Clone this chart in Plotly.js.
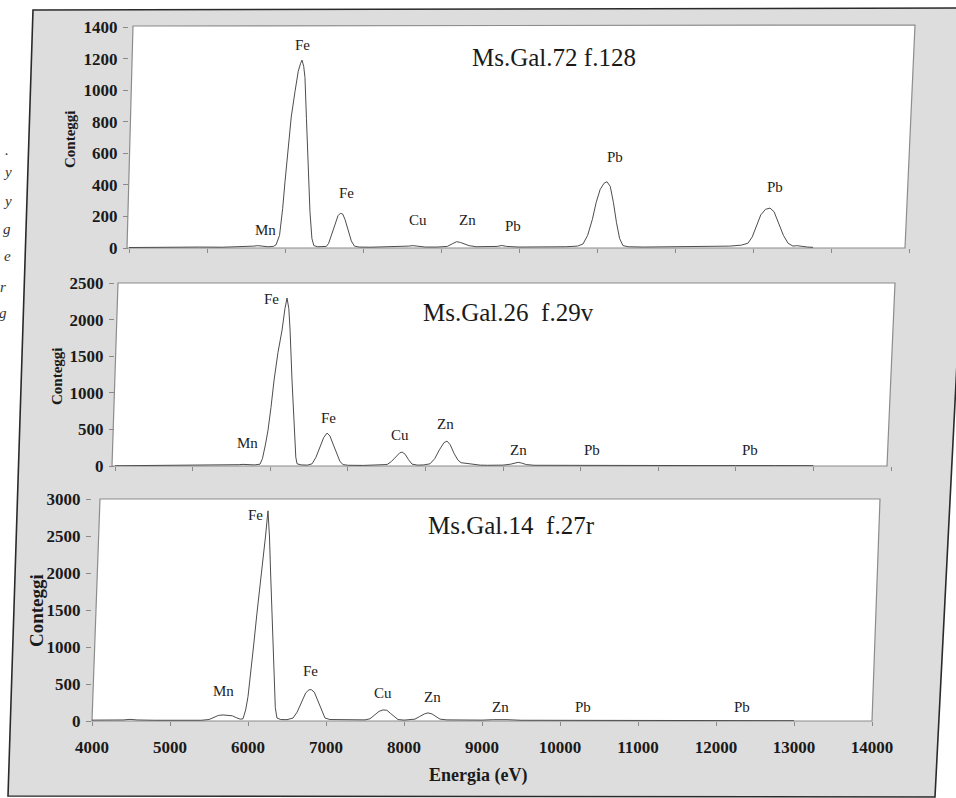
<!DOCTYPE html>
<html>
<head>
<meta charset="utf-8">
<script src="https://cdn.plot.ly/plotly-3.0.1.min.js"></script>
<style>html,body{margin:0;padding:0;background:#fff;}#chart{width:956px;height:798px;}</style>
</head>
<body>
<div id="chart"></div>
<script>
// ---------- DATA ----------
// Panel 1: Ms.Gal.72 f.128
const energy1 = [4000,4300,4600,4900,5200,5500,5600,5650,5700,5780,5850,
  5885,5930,5970,6000,6040,6080,6128,6170,6200,6218,6240,6256,6275,6295,6320,6345,6370,6420,6480,6530,
  6560,6600,6640,6680,6710,6740,6770,6810,6850,6890,6950,
  7100,7300,7500,7580,7640,7700,7800,7950,8080,8150,8200,8250,8300,8360,8450,8600,8720,8780,8840,9000,9300,9600,9750,
  9820,9880,9940,9990,10040,10090,10128,10170,10210,10250,10290,10333,10400,10600,10900,11200,11500,11700,11850,
  11935,11990,12040,12100,12160,12218,12270,12330,12390,12450,12513,12560,12620,12700,12770];
const counts1 = [3,5,4,6,5,8,12,15,12,8,10,
  20,80,250,420,640,830,990,1120,1170,1190,1150,1080,820,520,230,60,15,8,8,10,
  30,90,160,205,220,215,180,110,45,12,6,
  5,6,8,12,15,10,6,6,10,28,40,35,25,15,8,7,10,16,10,6,6,8,12,
  25,80,180,290,370,410,420,390,290,160,60,15,8,6,7,8,10,12,18,
  30,70,140,210,245,253,230,160,80,30,12,15,10,6,4];

// Panel 2: Ms.Gal.26 f.29v
const energy2 = [4000,4400,4800,5200,5500,5600,5650,5700,5800,5869,
  5900,5940,5972,6010,6050,6100,6153,6190,6217,6240,6256,6281,6307,6330,6346,6400,6480,
  6540,6590,6640,6690,6733,6770,6810,6860,6900,6939,7000,7200,7400,
  7506,7560,7620,7670,7700,7740,7780,7828,7900,7980,
  8060,8120,8180,8240,8279,8320,8370,8420,8460,8550,8640,8705,8800,9000,9100,9160,9195,9240,9300,9400,9700,
  10000,10100,10187,10280,10600,11000,11500,12000,12200,12500,13000];
const counts2 = [3,5,5,8,12,18,22,18,15,25,
  100,300,490,800,1175,1550,1858,2150,2295,2150,1858,1175,490,120,30,15,12,
  30,120,260,390,450,410,300,150,60,20,10,8,10,
  20,60,130,180,190,160,90,25,12,15,
  30,100,220,320,340,290,170,80,45,30,20,12,10,12,25,45,50,40,20,10,8,
  8,10,14,10,8,6,6,6,8,6,5];

// Panel 3: Ms.Gal.14 f.27r
const energy3 = [4000,4200,4400,4487,4580,4800,5100,5400,5500,5560,5620,5680,5740,5800,5850,5900,5936,
  5970,6000,6026,6070,6115,6150,6192,6225,6256,6275,6290,6307,6333,6350,6371,6420,6500,
  6577,6630,6690,6740,6780,6810,6850,6900,6950,6987,7050,7200,7400,7500,
  7564,7620,7680,7731,7780,7830,7880,7923,8000,8080,
  8141,8200,8260,8308,8360,8410,8462,8550,8700,9000,9150,9231,9320,9500,
  10000,10500,11000,11500,12000,12500,13000];
const counts3 = [12,10,14,22,14,10,8,10,20,50,75,82,78,70,45,25,30,
  150,330,550,1000,1460,1780,2135,2500,2840,2500,2000,1460,550,180,40,20,18,
  40,120,260,380,420,425,390,260,110,40,20,15,12,15,
  30,80,130,150,145,100,50,20,12,15,
  25,60,95,110,95,60,25,15,12,12,18,22,18,10,
  8,8,6,6,5,5,4];

// Axis ranges / ticks
const xRange = [4000, 14000];
const xTicks = [4000,5000,6000,7000,8000,9000,10000,11000,12000,13000,14000];
const xTickText = ['4000','5000','6000','7000','8000','9000','10000','11000','12000','13000','14000'];
const yTicks1 = [0,200,400,600,800,1000,1200,1400];
const yTicks2 = [0,500,1000,1500,2000,2500];
const yTicks3 = [0,500,1000,1500,2000,2500,3000];

// Panel titles
const panelTitles = ['Ms.Gal.72 f.128', 'Ms.Gal.26  f.29v', 'Ms.Gal.14  f.27r'];

// Peak labels (element, energy, counts)
const labels1 = ['Fe','Mn','Fe','Cu','Zn','Pb','Pb','Pb'];
const labX1 = [6230,5744,6790,7710,8340,8920,10230,12280];
const labY1 = [1286,114,348,177,177,140,576,386];
const labels2 = ['Fe','Mn','Fe','Cu','Zn','Zn','Pb','Pb'];
const labX2 = [6011,5701,6746,7674,8254,9195,10149,12185];
const labY2 = [2281,314,656,423,574,219,219,219];
const labels3 = ['Fe','Mn','Fe','Cu','Zn','Zn','Pb','Pb'];
const labX3 = [6090,5680,6795,7731,8359,9231,10295,12333];
const labY3 = [2783,405,675,378,324,189,189,189];

// Fragments of the neighbouring page text visible at the left margin of the scan
const marginText = ['.', 'y', 'y', 'g', 'e', 'r', 'g'];

// ---------- LAYOUT HELPERS ----------
const W = 956, H = 798;
const px = v => v / W;
const py = v => 1 - v / H;
const FONT = 'Liberation Serif, Times New Roman, serif';
function quad(pts) {
  return 'M ' + pts.map(p => px(p[0]).toFixed(5) + ' ' + py(p[1]).toFixed(5)).join(' L ') + ' Z';
}

const lineStyle = {color: '#4d4d4d', width: 1};
const traces = [
  {x: energy1, y: counts1, xaxis: 'x', yaxis: 'y', mode: 'lines', line: lineStyle, hoverinfo: 'skip'},
  {x: energy2, y: counts2, xaxis: 'x2', yaxis: 'y2', mode: 'lines', line: lineStyle, hoverinfo: 'skip'},
  {x: energy3, y: counts3, xaxis: 'x3', yaxis: 'y3', mode: 'lines', line: lineStyle, hoverinfo: 'skip'}
];

const tickFont = {family: FONT, size: 17, color: '#1a1a1a', weight: 'bold'};
function xAxis(domain, anchor, showLabels) {
  return {domain: domain, anchor: anchor, range: xRange, tickmode: 'array', tickvals: xTicks, ticktext: xTickText,
    showticklabels: showLabels, ticks: 'outside', ticklen: 4, tickcolor: '#8a8a8a', tickwidth: 1,
    showgrid: false, zeroline: false, showline: false, tickfont: tickFont, ticklabelstandoff: 7, fixedrange: true};
}
function yAxis(domain, anchor, range, vals) {
  return {domain: domain, anchor: anchor, range: range, tickmode: 'array', tickvals: vals, ticktext: vals.map(String),
    ticks: 'outside', ticklen: 5, tickcolor: '#8a8a8a', tickwidth: 1,
    showgrid: false, zeroline: false, showline: false, tickfont: tickFont, ticklabelstandoff: 2, fixedrange: true};
}

const shapes = [
  // scanned gray board with dark frame
  {type: 'path', xref: 'paper', yref: 'paper', layer: 'below',
   path: quad([[33,10],[975,8],[935,797],[8,796]]), fillcolor: '#dddddd', line: {color: '#2a2a2a', width: 1.6}},
  // white plot areas
  {type: 'path', xref: 'paper', yref: 'paper', layer: 'below',
   path: quad([[133,26],[915,25],[905,248],[127,248]]), fillcolor: '#ffffff', line: {color: '#8c8c8c', width: 1.2}},
  {type: 'path', xref: 'paper', yref: 'paper', layer: 'below',
   path: quad([[118,283],[895,283],[887,466],[112,466]]), fillcolor: '#ffffff', line: {color: '#8c8c8c', width: 1.2}},
  {type: 'path', xref: 'paper', yref: 'paper', layer: 'below',
   path: quad([[100,499],[880,499],[872,721],[92,721]]), fillcolor: '#ffffff', line: {color: '#8c8c8c', width: 1.2}}
];

const annotations = [];
function addLabels(txt, xs, ys, xr, yr) {
  txt.forEach((t, i) => annotations.push({text: t, x: xs[i], y: ys[i], xref: xr, yref: yr,
    xanchor: 'center', yanchor: 'middle',
    showarrow: false, font: {family: FONT, size: 15, color: '#222'}}));
}
addLabels(labels1, labX1, labY1, 'x', 'y');
addLabels(labels2, labX2, labY2, 'x2', 'y2');
addLabels(labels3, labX3, labY3, 'x3', 'y3');

const titlePos = [[554, 58], [508, 312], [512, 525]];
panelTitles.forEach((t, i) => annotations.push({text: t, x: px(titlePos[i][0]), y: py(titlePos[i][1]),
  xref: 'paper', yref: 'paper', xanchor: 'center', yanchor: 'middle',
  showarrow: false, font: {family: FONT, size: 25, color: '#1a1a1a'}}));

const ytPos = [[70, 139, 15], [57, 376, 15], [36, 611, 19]];
ytPos.forEach(p => annotations.push({text: 'Conteggi', x: px(p[0]), y: py(p[1]), xref: 'paper', yref: 'paper',
  xanchor: 'center', yanchor: 'middle',
  showarrow: false, textangle: -90, font: {family: FONT, size: p[2], color: '#1a1a1a', weight: 'bold'}}));

annotations.push({text: 'Energia (eV)', x: px(478), y: py(775), xref: 'paper', yref: 'paper',
  xanchor: 'center', yanchor: 'middle', showarrow: false,
  font: {family: FONT, size: 18, color: '#1a1a1a', weight: 'bold'}});

const marginPos = [[7,150],[7,172],[7,201],[7,229],[7,256],[3,287],[3,313]];
marginText.forEach((t, i) => annotations.push({text: t, x: px(marginPos[i][0]), y: py(marginPos[i][1]),
  xref: 'paper', yref: 'paper', xanchor: 'center', yanchor: 'middle', showarrow: false,
  font: {family: FONT, size: 15, color: '#333', style: 'italic'}}));

const layout = {
  width: W, height: H, margin: {l: 0, r: 0, t: 0, b: 0},
  paper_bgcolor: '#ffffff', plot_bgcolor: 'rgba(0,0,0,0)', showlegend: false,
  xaxis: xAxis([px(129), px(909)], 'y', false),
  yaxis: yAxis([py(248), py(27)], 'x', [0, 1400], yTicks1),
  xaxis2: xAxis([px(115), px(891)], 'y2', false),
  yaxis2: yAxis([py(466), py(283)], 'x2', [0, 2500], yTicks2),
  xaxis3: xAxis([px(92), px(872)], 'y3', true),
  yaxis3: yAxis([py(721), py(499)], 'x3', [0, 3000], yTicks3),
  shapes: shapes, annotations: annotations
};

Plotly.newPlot('chart', traces, layout, {displayModeBar: false, staticPlot: true});
</script>
</body>
</html>
